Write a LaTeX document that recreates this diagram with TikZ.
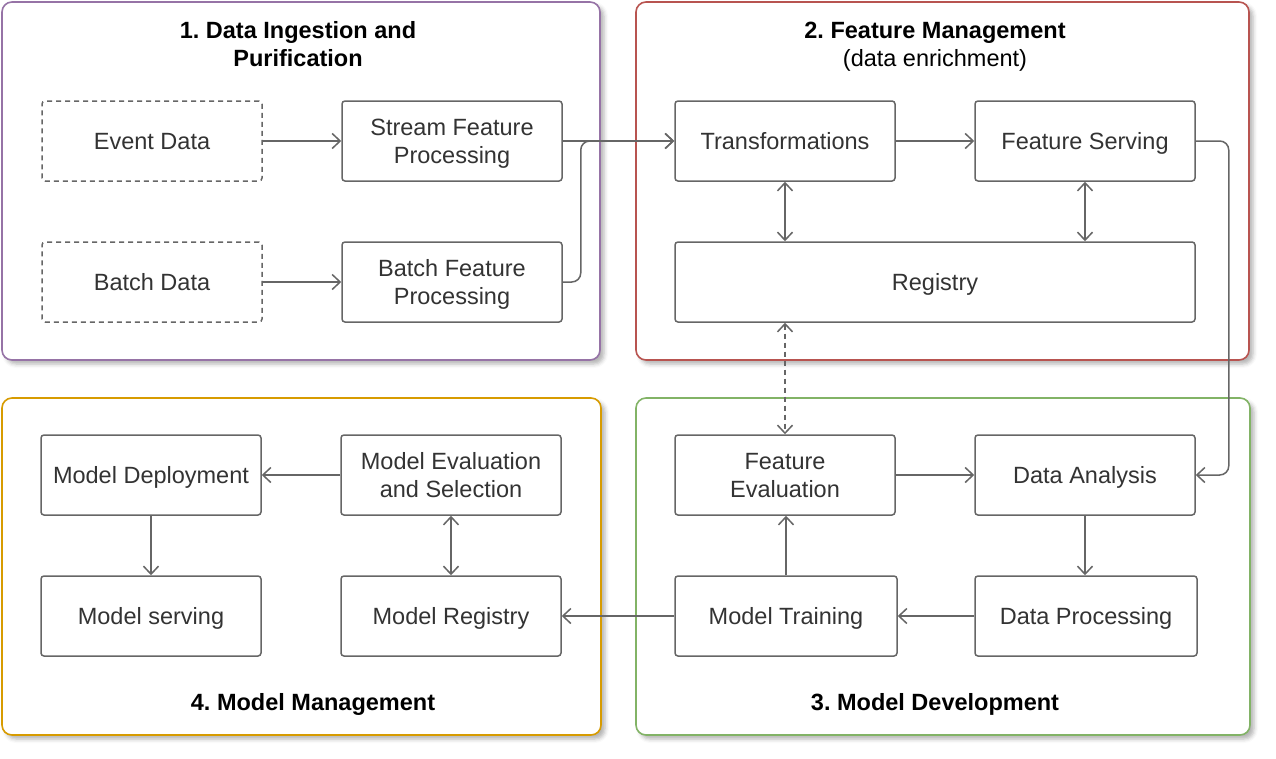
\documentclass[tikz,border=0pt]{standalone}
\usepackage{fontspec}
\setmainfont{Liberation Sans}
\usetikzlibrary{arrows.meta,shadows.blur,calc}
\definecolor{lg}{HTML}{666666}
\definecolor{tx}{HTML}{333333}
\definecolor{cpurple}{HTML}{9673A6}
\definecolor{cred}{HTML}{B85450}
\definecolor{cgreen}{HTML}{82B366}
\definecolor{corange}{HTML}{D79B00}
\begin{document}
\frenchspacing
\begin{tikzpicture}[x=1pt,y=-1pt,
  grp/.style={line width=1.6pt, rounded corners=10pt, fill=white, inner sep=0pt,
    blur shadow={shadow xshift=4pt, shadow yshift=-4pt, shadow blur radius=4pt, shadow opacity=30}},
  box/.style={draw=lg, line width=1.5pt, rounded corners=3pt, fill=white,
    minimum width=220pt, minimum height=80pt, align=center, text=tx,
    font=\fontsize{23.5}{28}\selectfont, inner sep=0pt, text depth=0pt},
  dbox/.style={box, dash pattern=on 5pt off 4pt},
  ttl/.style={align=center, text=black, font=\fontsize{23.5}{28}\selectfont\bfseries, inner sep=0pt, text depth=0pt},
  arr/.style={draw=lg, line width=1.5pt, -{Straight Barb[length=8pt,width=15pt]}},
  darr/.style={draw=lg, line width=1.5pt, {Straight Barb[length=8pt,width=15pt]}-{Straight Barb[length=8pt,width=15pt]}},
]
\useasboundingbox (0,0) rectangle (1276,758);
% groups
\node[grp, draw=cpurple, minimum width=598pt, minimum height=358pt] (g1) at (301,181) {};
\node[grp, draw=cred, minimum width=613pt, minimum height=358pt] (g2) at (942.5,181) {};
\node[grp, draw=cgreen, minimum width=614pt, minimum height=337pt] (g3) at (943,566.5) {};
\node[grp, draw=corange, minimum width=599pt, minimum height=337pt] (g4) at (301.5,566.5) {};
% titles
\node[ttl] (t1) at (298,44) {1. Data Ingestion and\\Purification};
\node[ttl] (t2) at (935,44) {2. Feature Management\\\mdseries (data enrichment)};
\node[ttl] (t3) at (935,702) {3. Model Development};
\node[ttl] (t4) at (313,702) {4. Model Management};
% group 1
\node[dbox] (ev) at (152,141) {Event Data};
\node[box] (sfp) at (452,141) {Stream Feature\\Processing};
\node[dbox] (bd) at (152,282) {Batch Data};
\node[box] (bfp) at (452,282) {Batch Feature\\Processing};
% group 2
\node[box] (tr) at (785,141) {Transformations};
\node[box] (fs) at (1085,141) {Feature Serving};
\node[box, minimum width=520pt] (reg) at (935,282) {Registry};
% group 3
\node[box] (fe) at (785,475) {Feature\\Evaluation};
\node[box] (da) at (1085,475) {Data Analysis};
\node[box, minimum width=222pt] (mt) at (786,616) {Model Training};
\node[box, minimum width=222pt] (dp) at (1086,616) {Data Processing};
% group 4
\node[box] (md) at (151,475) {Model Deployment};
\node[box] (mes) at (451,475) {Model Evaluation\\and Selection};
\node[box] (ms) at (151,616) {Model serving};
\node[box] (mr) at (451,616) {Model Registry};
% connectors
\draw[arr] (ev) -- (sfp);
\draw[arr] (bd) -- (bfp);
\draw[arr] (sfp) -- (tr);
\draw[arr, rounded corners=9pt] (bfp.east) -- ++(18,0) |- (tr.west);
\draw[arr] (tr) -- (fs);
\draw[darr] (tr.south) -- (tr.south |- reg.north);
\draw[darr] (fs.south) -- (fs.south |- reg.north);
\draw[arr, rounded corners=9pt] (fs.east) -- ++(33,0) |- (da.east);
\draw[darr, dash pattern=on 5pt off 4pt] (reg.south -| fe.north) -- (fe.north);
\draw[arr] (fe) -- (da);
\draw[arr] (da.south) -- (da.south |- dp.north);
\draw[arr] (dp) -- (mt);
\draw[arr] (mt.north) -- (mt.north |- fe.south);
\draw[arr] (mt) -- (mr);
\draw[arr] (mes) -- (md);
\draw[arr] (md) -- (ms);
\draw[darr] (mes) -- (mr);
\end{tikzpicture}
\end{document}
